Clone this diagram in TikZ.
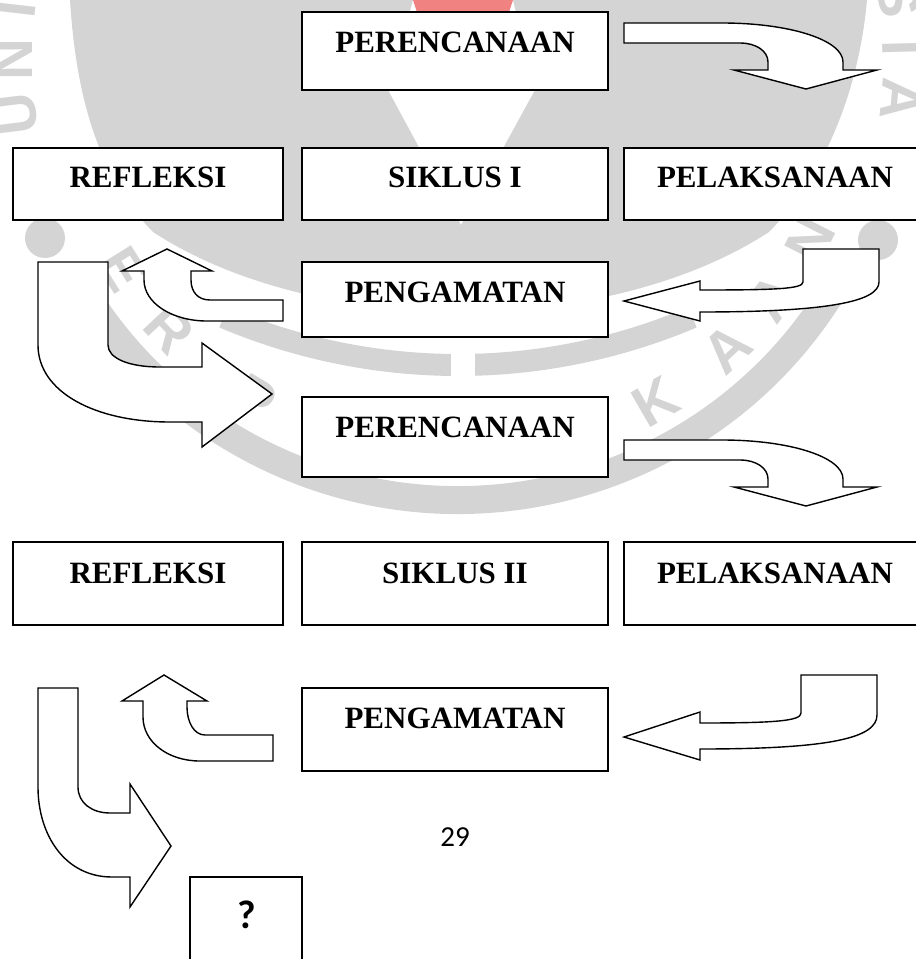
\documentclass[tikz,border=0pt]{standalone}
\usepackage{fontspec}
\setmainfont{Liberation Serif}
\newfontfamily\pagefont{Carlito}
\newfontfamily\wmfont{Liberation Sans}
\definecolor{wmgrey}{RGB}{212,212,212}
\definecolor{wmred}{RGB}{240,130,130}
\begin{document}
\begin{tikzpicture}[x={(1pt,0pt)}, y={(0pt,-1pt)},
  box/.style={draw=black, line width=2pt, fill=white, rectangle, inner sep=0pt, outer sep=0pt, minimum width=306pt},
  lbl/.style={font=\bfseries\fontsize{31}{31}\selectfont, anchor=base, inner sep=0pt},
  blockarrow/.style={draw=black, line width=1.4pt, fill=white, line join=miter},
  wmletter/.style={text=wmgrey, font=\wmfont\bfseries\fontsize{58}{58}\selectfont, inner sep=0pt}]

\useasboundingbox (0,0) rectangle (916,959);
\clip (0,0) rectangle (916,959);

% --- library logo in the background ---
\fill[wmred] (413,0) -- (513,0) -- (500,40) -- (426,40) -- cycle;
\fill[wmgrey] (70,0) -- (413,0) -- (388,90) -- (461,225) -- (535,90) -- (513,0) -- (867,0)
  .. controls (860,80) and (830,170) .. (769,232)
  .. controls (680,290) and (560,312) .. (461,312)
  .. controls (362,312) and (242,290) .. (153,232)
  .. controls (92,170) and (75,80) .. (70,0) -- cycle;
\draw[wmgrey, line width=28pt] ([shift={(458,60)}]30:440) arc[start angle=30, end angle=150, radius=440];
\draw[wmgrey, line width=22pt] ([shift={(458,-235)}]67:600) arc[start angle=67, end angle=113, radius=600];
\fill[white] (451,335) rectangle (475,390);
\fill[wmgrey] (45,238) circle[radius=20];
\fill[wmgrey] (878,240) circle[radius=20];
% letters of the lower arc that show between the boxes and arrows
\foreach \a/\c [count=\i] in {148/E,137/R,121/P,60/K,47/A,37/A,27/N}
  \node[wmletter, rotate=90-\a] (wmlow\i) at ([shift={(458,60)}]\a:395) {\c};
% letters of the upper arc at both edges
\foreach \a/\c [count=\i] in {173/U,180/N,186.5/I,352/S,358.5/I,365/A}
  \node[wmletter, rotate=270-\a] (wmup\i) at ([shift={(458,60)}]\a:445) {\c};

% --- block arrows, cycle I ---
\draw[blockarrow] (624,23) -- (722,23) .. controls (790,23) and (843,40) .. (843,62)
  -- (843,70) -- (877,70) -- (806,89) -- (734,70) -- (768,70) -- (768,62)
  .. controls (768,51) and (756,43) .. (740,43) -- (624,43) -- cycle;
\draw[blockarrow] (803,249) -- (879,249) -- (879,282) .. controls (879,302) and (825,312) .. (700,312)
  -- (700,321) -- (624,301) -- (700,281) -- (700,290)
  .. controls (775,290) and (803,289) .. (803,282) -- cycle;
\draw[blockarrow] (167,249) -- (212,271) -- (191,271) -- (191,280)
  .. controls (191,292) and (198,300) .. (210,300) -- (283,300) -- (283,321) -- (207,321)
  .. controls (172,321) and (144,303) .. (144,280) -- (144,271) -- (122,271) -- cycle;
\draw[blockarrow] (38,262) -- (108,262) -- (108,345) .. controls (108,358) and (128,367) .. (160,367)
  -- (202,367) -- (202,343) -- (272,394) -- (202,447) -- (202,422) -- (170,422)
  .. controls (95,422) and (38,392) .. (38,345) -- cycle;

% --- block arrows, cycle II ---
\begin{scope}[shift={(0,417)}]
\draw[blockarrow] (624,23) -- (722,23) .. controls (790,23) and (843,40) .. (843,62)
  -- (843,70) -- (877,70) -- (806,89) -- (734,70) -- (768,70) -- (768,62)
  .. controls (768,51) and (756,43) .. (740,43) -- (624,43) -- cycle;
\end{scope}
\draw[blockarrow] (801,675) -- (877,675) -- (877,715) .. controls (877,738) and (830,749) .. (700,749)
  -- (700,760) -- (624,737) -- (700,712) -- (700,723)
  .. controls (775,723) and (801,721) .. (801,713) -- cycle;
\draw[blockarrow] (164,675) -- (207,701) -- (187,701) -- (187,707)
  .. controls (187,722) and (194,735) .. (205,735) -- (273,735) -- (273,761) -- (200,761)
  .. controls (168,761) and (143,742) .. (143,717) -- (143,701) -- (122,701) -- cycle;
\draw[blockarrow] (38,688) -- (78,688) -- (78,787) .. controls (78,803) and (92,813) .. (110,813)
  -- (130,813) -- (130,784) -- (171,846) -- (130,907) -- (130,877) -- (112,877)
  .. controls (65,877) and (38,835) .. (38,787) -- cycle;

% --- boxes, cycle I ---
\node[box, minimum height=78pt] (plan1) at (455,51) {};
\node[box, minimum width=270pt, minimum height=72pt] (refl1) at (148,184) {};
\node[box, minimum height=72pt] (cyc1) at (455,184) {};
\node[box, minimum height=72pt] (act1) at (777,184) {};
\node[box, minimum height=75pt] (obs1) at (455,299.5) {};
\node[lbl] (plan1t) at (455,52) {PERENCANAAN};
\node[lbl] (refl1t) at (148,187) {REFLEKSI};
\node[lbl] (cyc1t) at (455,187) {SIKLUS I};
\node[lbl] (act1t) at (775,187) {PELAKSANAAN};
\node[lbl] (obs1t) at (455,302) {PENGAMATAN};

% --- boxes, cycle II ---
\node[box, minimum height=80pt] (plan2) at (455,437) {};
\node[box, minimum width=270pt, minimum height=83pt] (refl2) at (148,583.5) {};
\node[box, minimum height=83pt] (cyc2) at (455,583.5) {};
\node[box, minimum height=83pt] (act2) at (777,583.5) {};
\node[box, minimum height=83pt] (obs2) at (455,729.5) {};
\node[lbl] (plan2t) at (455,437) {PERENCANAAN};
\node[lbl] (refl2t) at (148,583) {REFLEKSI};
\node[lbl] (cyc2t) at (455,583) {SIKLUS II};
\node[lbl] (act2t) at (775,583) {PELAKSANAAN};
\node[lbl] (obs2t) at (455,728) {PENGAMATAN};

% --- next step and page number ---
\node[box, minimum width=112pt, minimum height=112pt] (next) at (246,933) {};
\node[font=\pagefont\bfseries\fontsize{40}{40}\selectfont, inner sep=0pt] (nextt) at (247,915) {?};
\node[font=\pagefont\fontsize{29}{29}\selectfont, inner sep=0pt] (pagenum) at (455,837) {29};
\end{tikzpicture}
\end{document}
